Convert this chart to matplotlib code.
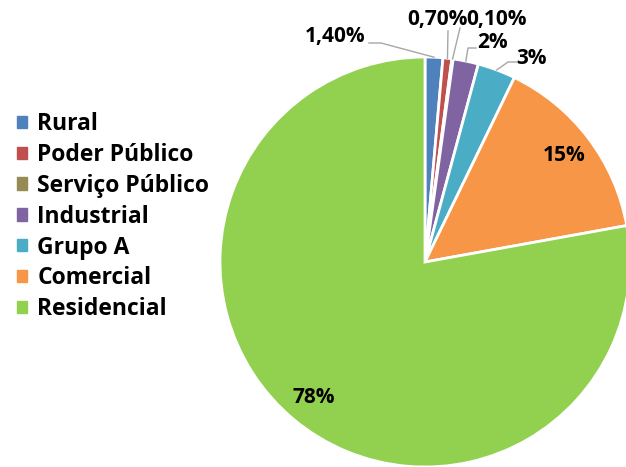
import numpy as np
import matplotlib.pyplot as plt

FONT = ['Open Sans', 'DejaVu Sans']
plt.rcParams['font.family'] = FONT
plt.rcParams['font.weight'] = 'bold'

categories = ["Rural", "Poder Público", "Serviço Público", "Industrial",
              "Grupo A", "Comercial", "Residencial"]
shares = [1.4, 0.7, 0.1, 2, 3, 15, 78]
labels = ["1,40%", "0,70%", "0,10%", "2%", "3%", "15%", "78%"]
colors = ["#4F81BD", "#C0504D", "#948A54", "#8064A2", "#4BACC6", "#F79646", "#92D050"]

W, H = 626, 467
cx, cy, R = 425, 262, 205  # pie centre / radius in pixels

fig = plt.figure(figsize=(W / 100, H / 100), dpi=100)
ax = fig.add_axes([(cx - R) / W, (H - cy - R) / H, 2 * R / W, 2 * R / H])
wedges, _ = ax.pie(shares, colors=colors, startangle=90, counterclock=False,
                   radius=1, wedgeprops=dict(edgecolor="white", linewidth=2))
ax.set_xlim(-1, 1)
ax.set_ylim(-1, 1)
ax.set_aspect("equal")
ax.axis("off")


def px2data(px, py):
    return (px - cx) / R, (cy - py) / R


# big slices labelled inside
for i in (5, 6):
    w = wedges[i]
    th = np.deg2rad((w.theta1 + w.theta2) / 2)
    ax.text(0.85 * np.cos(th), 0.86 * np.sin(th), labels[i], ha="center", va="center",
            fontsize=15, fontweight="bold")

# small slices labelled outside, leader line: text end -> elbow -> wedge rim
text_pos = [(335, 37), (437, 20), (497, 20), (492, 43), (532, 58)]
leader = [[(369, 43), (381, 43)], [(448, 31)], [(460, 28)],
          [(476, 48), (468, 48)], [(517, 62), (508, 62)]]
for i, (tx, ty) in enumerate(text_pos):
    w = wedges[i]
    th = np.deg2rad((w.theta1 + w.theta2) / 2)
    ax.text(*px2data(tx, ty), labels[i], ha="center", va="center",
            fontsize=15, fontweight="bold", clip_on=False)
    pts = [px2data(*p) for p in leader[i]] + [(np.cos(th), np.sin(th))]
    xs, ys = zip(*pts)
    ax.plot(xs, ys, color="#A6A6A6", lw=1, clip_on=False)

handles = [plt.Rectangle((0, 0), 1, 1, color=c) for c in colors]
fig.legend(handles, categories, loc="upper left", bbox_to_anchor=(17 / W, 1 - 112 / H),
           frameon=False, handlelength=0.44, handleheight=0.44,
           handletextpad=0.45, labelspacing=0.3, borderaxespad=0, borderpad=0,
           prop=dict(family=FONT, weight='bold', size=16.5))

fig.savefig("out.png", dpi=100)
